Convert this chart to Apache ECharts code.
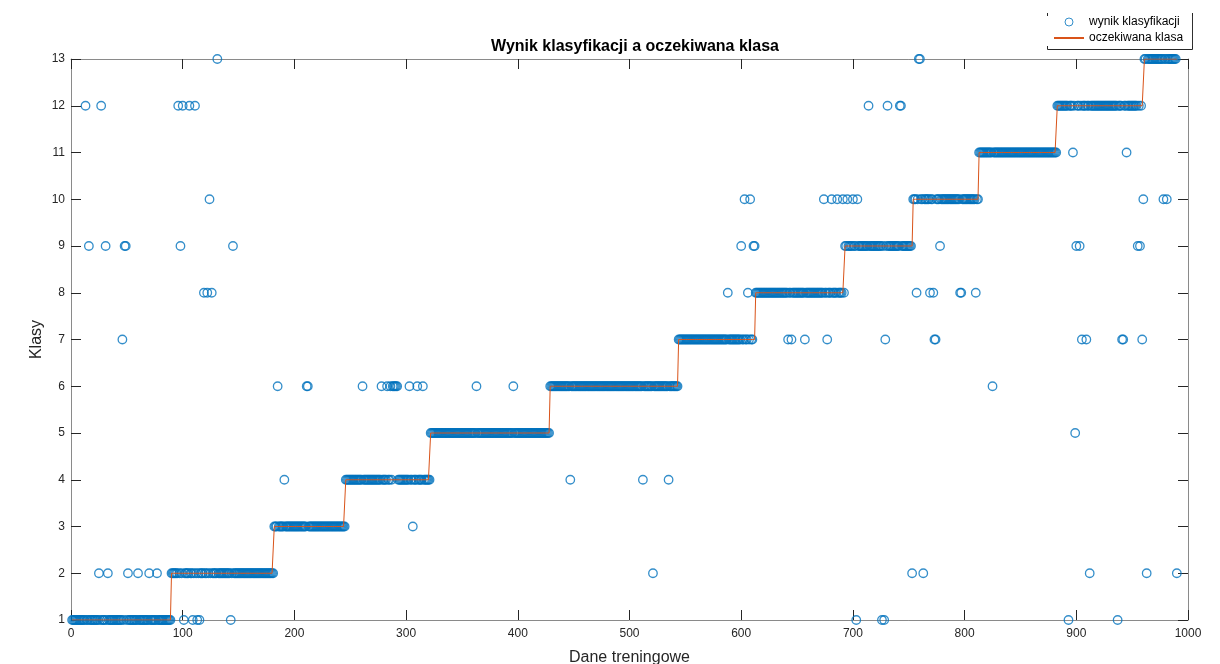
<!DOCTYPE html>
<html>
<head>
<meta charset="utf-8">
<script src="https://cdn.jsdelivr.net/npm/echarts@6/dist/echarts.min.js"></script>
<style>
  html, body { margin: 0; padding: 0; background: #fff; }
  #chart { width: 1220px; height: 664px; }
</style>
</head>
<body>
<div id="chart"></div>
<script>
// first sample index of each expected class (1..13)
const classStarts = [1, 90, 182, 246, 322, 429, 544, 613, 693, 754, 813, 883, 961]
const lastIndex = 990
// samples where the classifier gave a different class: [index, predicted]
const misclassified = [
  [131, 13], [759, 13], [760, 13],
  [13, 12], [27, 12], [96, 12], [100, 12], [106, 12], [111, 12], [714, 12], [731, 12], [742, 12], [743, 12],
  [897, 11], [945, 11],
  [124, 10], [603, 10], [608, 10], [674, 10], [681, 10], [686, 10], [691, 10], [695, 10], [700, 10], [704, 10], [960, 10], [978, 10], [981, 10],
  [16, 9], [31, 9], [48, 9], [49, 9], [98, 9], [145, 9], [600, 9], [611, 9], [612, 9], [778, 9], [900, 9], [903, 9], [955, 9], [957, 9],
  [119, 8], [122, 8], [126, 8], [588, 8], [606, 8], [757, 8], [769, 8], [772, 8], [796, 8], [797, 8], [810, 8],
  [46, 7], [642, 7], [645, 7], [657, 7], [677, 7], [729, 7], [773, 7], [774, 7], [905, 7], [909, 7], [941, 7], [942, 7], [959, 7],
  [185, 6], [211, 6], [212, 6], [261, 6], [278, 6], [283, 6], [286, 6], [288, 6], [289, 6], [290, 6], [291, 6], [292, 6],
  [303, 6], [310, 6], [315, 6], [363, 6], [396, 6], [825, 6],
  [899, 5],
  [191, 4], [447, 4], [512, 4], [535, 4],
  [306, 3],
  [25, 2], [33, 2], [51, 2], [60, 2], [70, 2], [77, 2], [521, 2], [753, 2], [763, 2], [912, 2], [963, 2], [990, 2],
  [101, 1], [109, 1], [113, 1], [115, 1], [143, 1], [703, 1], [726, 1], [728, 1], [893, 1], [937, 1]
]

const wrong = {}
misclassified.forEach(p => { wrong[p[0]] = p[1] })

let expected = []
let predicted = []
let k = 0
for (let i = 1; i <= lastIndex; i++) {
  while (k + 1 < classStarts.length && i >= classStarts[k + 1]) k++
  let cls = k + 1
  expected.push([i, cls])
  predicted.push([i, wrong[i] !== undefined ? wrong[i] : cls])
}

const font = 'Liberation Sans, Arial, sans-serif'
const boxLine = { show: true, onZero: false, lineStyle: { color: '#8a8a8a', width: 1 } }
const tick = { show: true, inside: true, length: 10, lineStyle: { color: '#262626', width: 1 } }

let chart = echarts.init(document.getElementById('chart'))
chart.setOption({
  animation: false,
  backgroundColor: '#fff',
  title: {
    text: 'Wynik klasyfikacji a oczekiwana klasa',
    left: 630,
    textAlign: 'center',
    top: 34,
    textStyle: { fontFamily: font, fontSize: 16, fontWeight: 'bold', color: '#000' }
  },
  legend: {
    orient: 'vertical',
    left: 1047,
    top: 16,
    padding: [0, 9, 2, 6],
    itemGap: 4,
    itemWidth: 30,
    itemHeight: 8,
    backgroundColor: '#fff',
    textStyle: { fontFamily: font, fontSize: 12, color: '#000' },
    data: [
      { name: 'wynik klasyfikacji', icon: 'circle', itemStyle: { color: '#fff', borderColor: '#0072BD', borderWidth: 1 } },
      { name: 'oczekiwana klasa', itemStyle: { opacity: 0 } }
    ]
  },
  graphic: [{
    type: 'polyline',
    silent: true,
    shape: { points: [[1047.5, 13], [1047.5, 49.5], [1192.5, 49.5], [1192.5, 13]] },
    style: { stroke: '#262626', fill: null, lineWidth: 1 }
  }],
  grid: { left: 71, right: 32, top: 59, bottom: 44, outerBoundsMode: 'none' },
  xAxis: [
    {
      type: 'value', min: 0, max: 1000, interval: 100, position: 'bottom',
      name: 'Dane treningowe', nameLocation: 'middle', nameGap: 30,
      nameTextStyle: { fontFamily: font, fontSize: 16, color: '#262626' },
      axisLine: boxLine, axisTick: tick,
      axisLabel: { fontFamily: font, fontSize: 12, color: '#262626', margin: 8, formatter: v => String(v) },
      splitLine: { show: false }
    },
    {
      type: 'value', min: 0, max: 1000, interval: 100, position: 'top',
      axisLine: boxLine, axisTick: tick, axisLabel: { show: false }, splitLine: { show: false }
    }
  ],
  yAxis: [
    {
      type: 'value', min: 1, max: 13, interval: 1, position: 'left',
      name: 'Klasy', nameLocation: 'middle', nameGap: 26, nameMoveOverlap: false,
      nameTextStyle: { fontFamily: font, fontSize: 16, color: '#262626' },
      axisLine: boxLine, axisTick: tick,
      axisLabel: { fontFamily: font, fontSize: 12, color: '#262626', margin: 6 },
      splitLine: { show: false }
    },
    {
      type: 'value', min: 1, max: 13, interval: 1, position: 'right',
      axisLine: boxLine, axisTick: tick, axisLabel: { show: false }, splitLine: { show: false }
    }
  ],
  series: [
    {
      name: 'wynik klasyfikacji',
      type: 'scatter',
      data: predicted,
      symbol: 'circle',
      symbolSize: 8.5,
      itemStyle: { color: 'rgba(0,0,0,0)', borderColor: '#0072BD', borderWidth: 1.3 },
      z: 2
    },
    {
      name: 'oczekiwana klasa',
      type: 'line',
      data: expected,
      symbol: 'none',
      lineStyle: { color: '#D95319', width: 1 },
      itemStyle: { color: '#D95319' },
      z: 3
    }
  ]
})
</script>
</body>
</html>
